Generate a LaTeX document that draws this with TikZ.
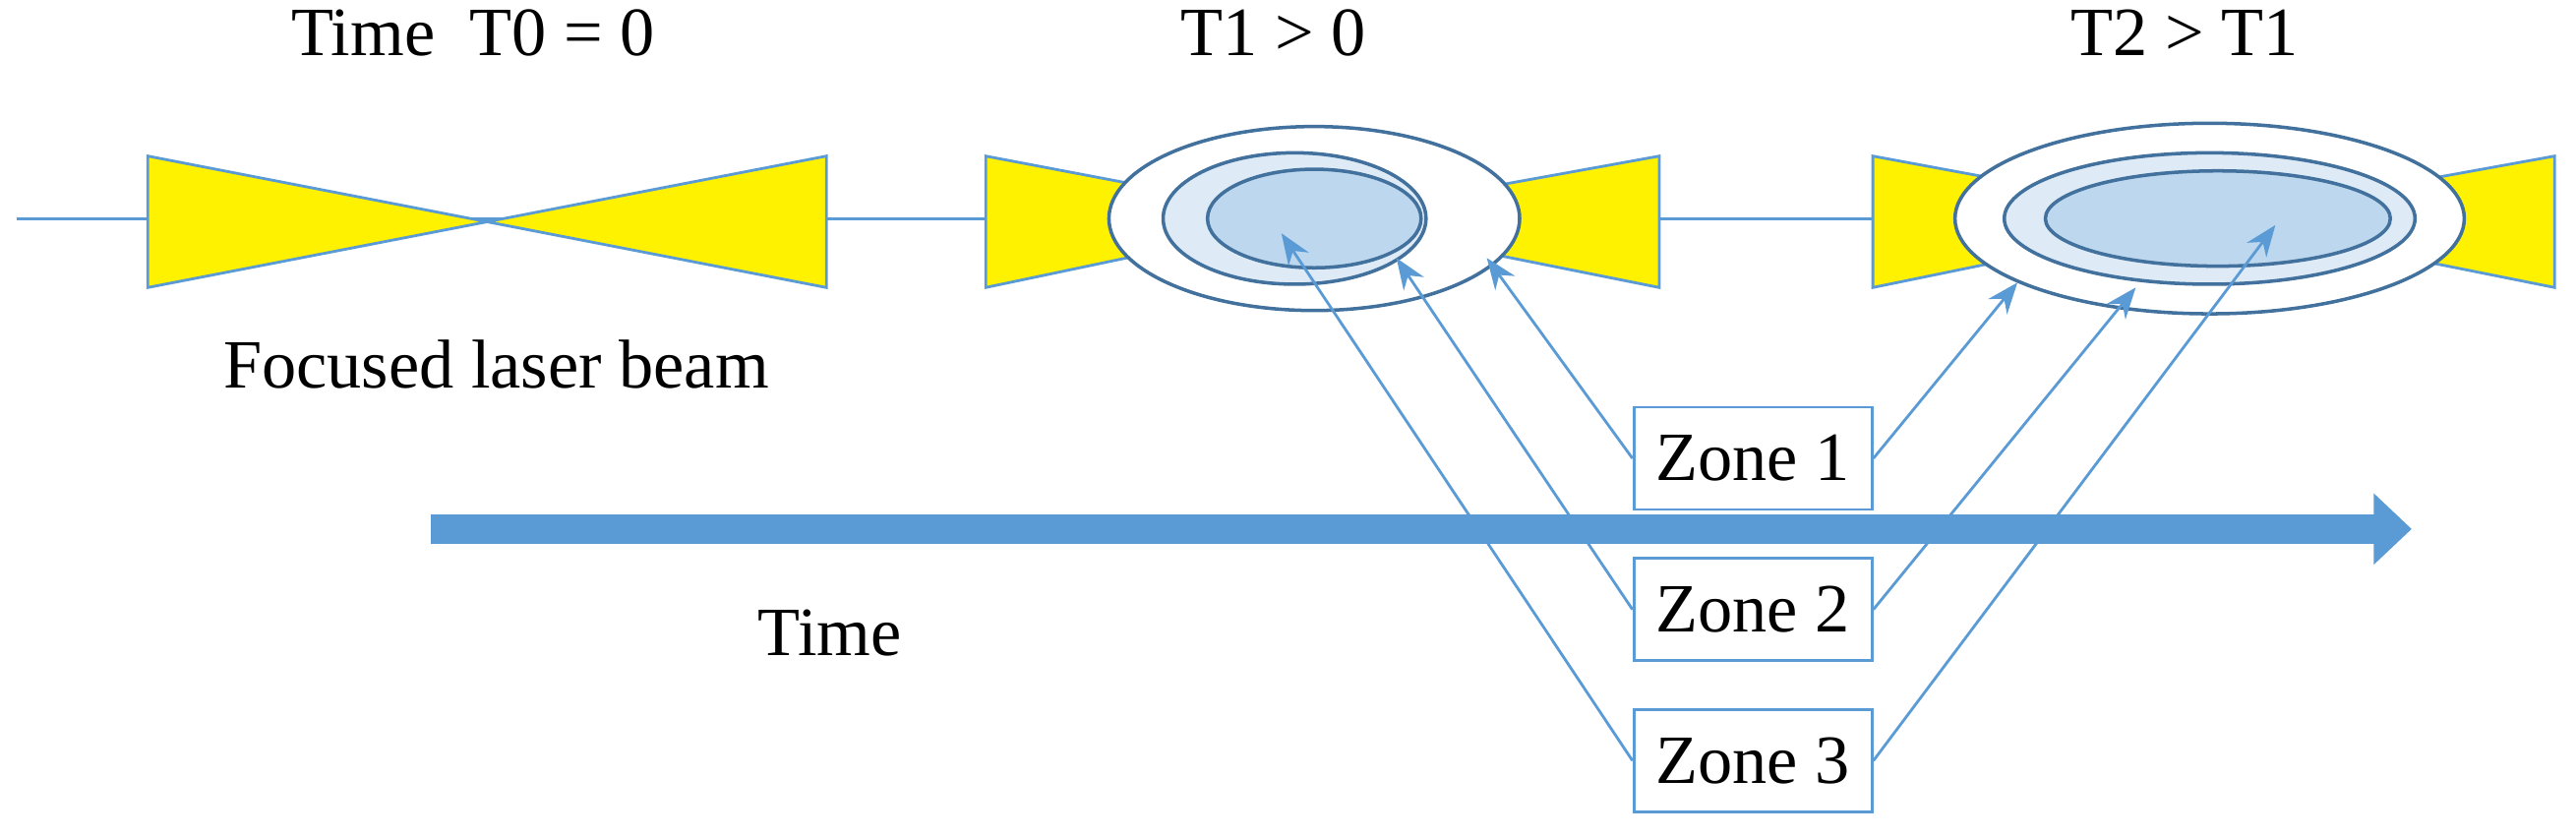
\documentclass[tikz,border=0pt]{standalone}
\usepackage{fontspec}
\setmainfont{Liberation Serif}
\usetikzlibrary{positioning,arrows.meta}
\definecolor{lblue}{HTML}{5B9BD5}
\definecolor{dblue}{HTML}{41719C}
\definecolor{mfill}{HTML}{DEEBF7}
\definecolor{ifill}{HTML}{BDD7EE}
\tikzset{beam/.style={draw=lblue, fill=yellow, line width=0.8pt},
  ring/.style={draw=dblue, line width=1pt},
  zone/.style={draw=lblue, fill=white, line width=0.8pt, minimum width=2.42cm, minimum height=1.04cm, font=\fontsize{20}{22}\selectfont},
  lbl/.style={font=\fontsize{20}{22}\selectfont},
  ptr/.style={draw=lblue, line width=0.8pt, -{Stealth[length=9pt,width=7pt]}}}
\begin{document}
\begin{tikzpicture}[x=0.0167cm,y=-0.0167cm]
\useasboundingbox (0,0) rectangle (1568,509.6);
% axis line
\draw[lblue, line width=0.8pt] (10,133) -- (1555,133);
% focused beam
\draw[beam] (90,95) -- (90,175) -- (503,95) -- (503,175) -- cycle;
% T1
\draw[beam] (600,95) -- (600,175) -- (800,133) -- cycle;
\draw[beam] (1010,95) -- (1010,175) -- (800,133) -- cycle;
\draw[ring, fill=white] (800,133) ellipse (125 and 56);
\draw[ring, fill=mfill] (788,133) ellipse (80 and 40);
\draw[ring, fill=ifill] (800,133) ellipse (65 and 30);
% T2
\draw[beam] (1140,95) -- (1140,175) -- (1345,133) -- cycle;
\draw[beam] (1555,95) -- (1555,175) -- (1345,133) -- cycle;
\draw[ring, fill=white] (1345,133) ellipse (155 and 58);
\draw[ring, fill=mfill] (1345,133) ellipse (125 and 40);
\draw[ring, fill=ifill] (1350,133) ellipse (105 and 29);
% time arrow
\coordinate (ta) at (262,322);
\coordinate (tb) at (1468,322);
\draw[lblue, line width=8.5pt, -{Triangle[length=11pt,width=20pt]}] (ta) -- (tb);
% labels
\node[lbl] (t0) at (288,20) {Time\ \ T0 = 0};
\node[lbl] (t1) at (775,20) {T1 > 0};
\node[lbl] (t2) at (1330,20) {T2 > T1};
\node[lbl] (flb) at (302,222) {Focused laser beam};
\node[lbl] (tm) at (505,385) {Time};
% zones
\node[zone] (z1) at (1067,279) {Zone 1};
\node[zone] (z2) at (1067,371) {Zone 2};
\node[zone] (z3) at (1067,463) {Zone 3};
\coordinate (a1) at (905,157);
\coordinate (a2) at (850,157);
\coordinate (a3) at (780,142);
\coordinate (b1) at (1228,172);
\coordinate (b2) at (1300,175);
\coordinate (b3) at (1385,137);
\draw[ptr] (z1.west) -- (a1);
\draw[ptr] (z2.west) -- (a2);
\draw[ptr] (z3.west) -- (a3);
\draw[ptr] (z1.east) -- (b1);
\draw[ptr] (z2.east) -- (b2);
\draw[ptr] (z3.east) -- (b3);
\end{tikzpicture}
\end{document}
